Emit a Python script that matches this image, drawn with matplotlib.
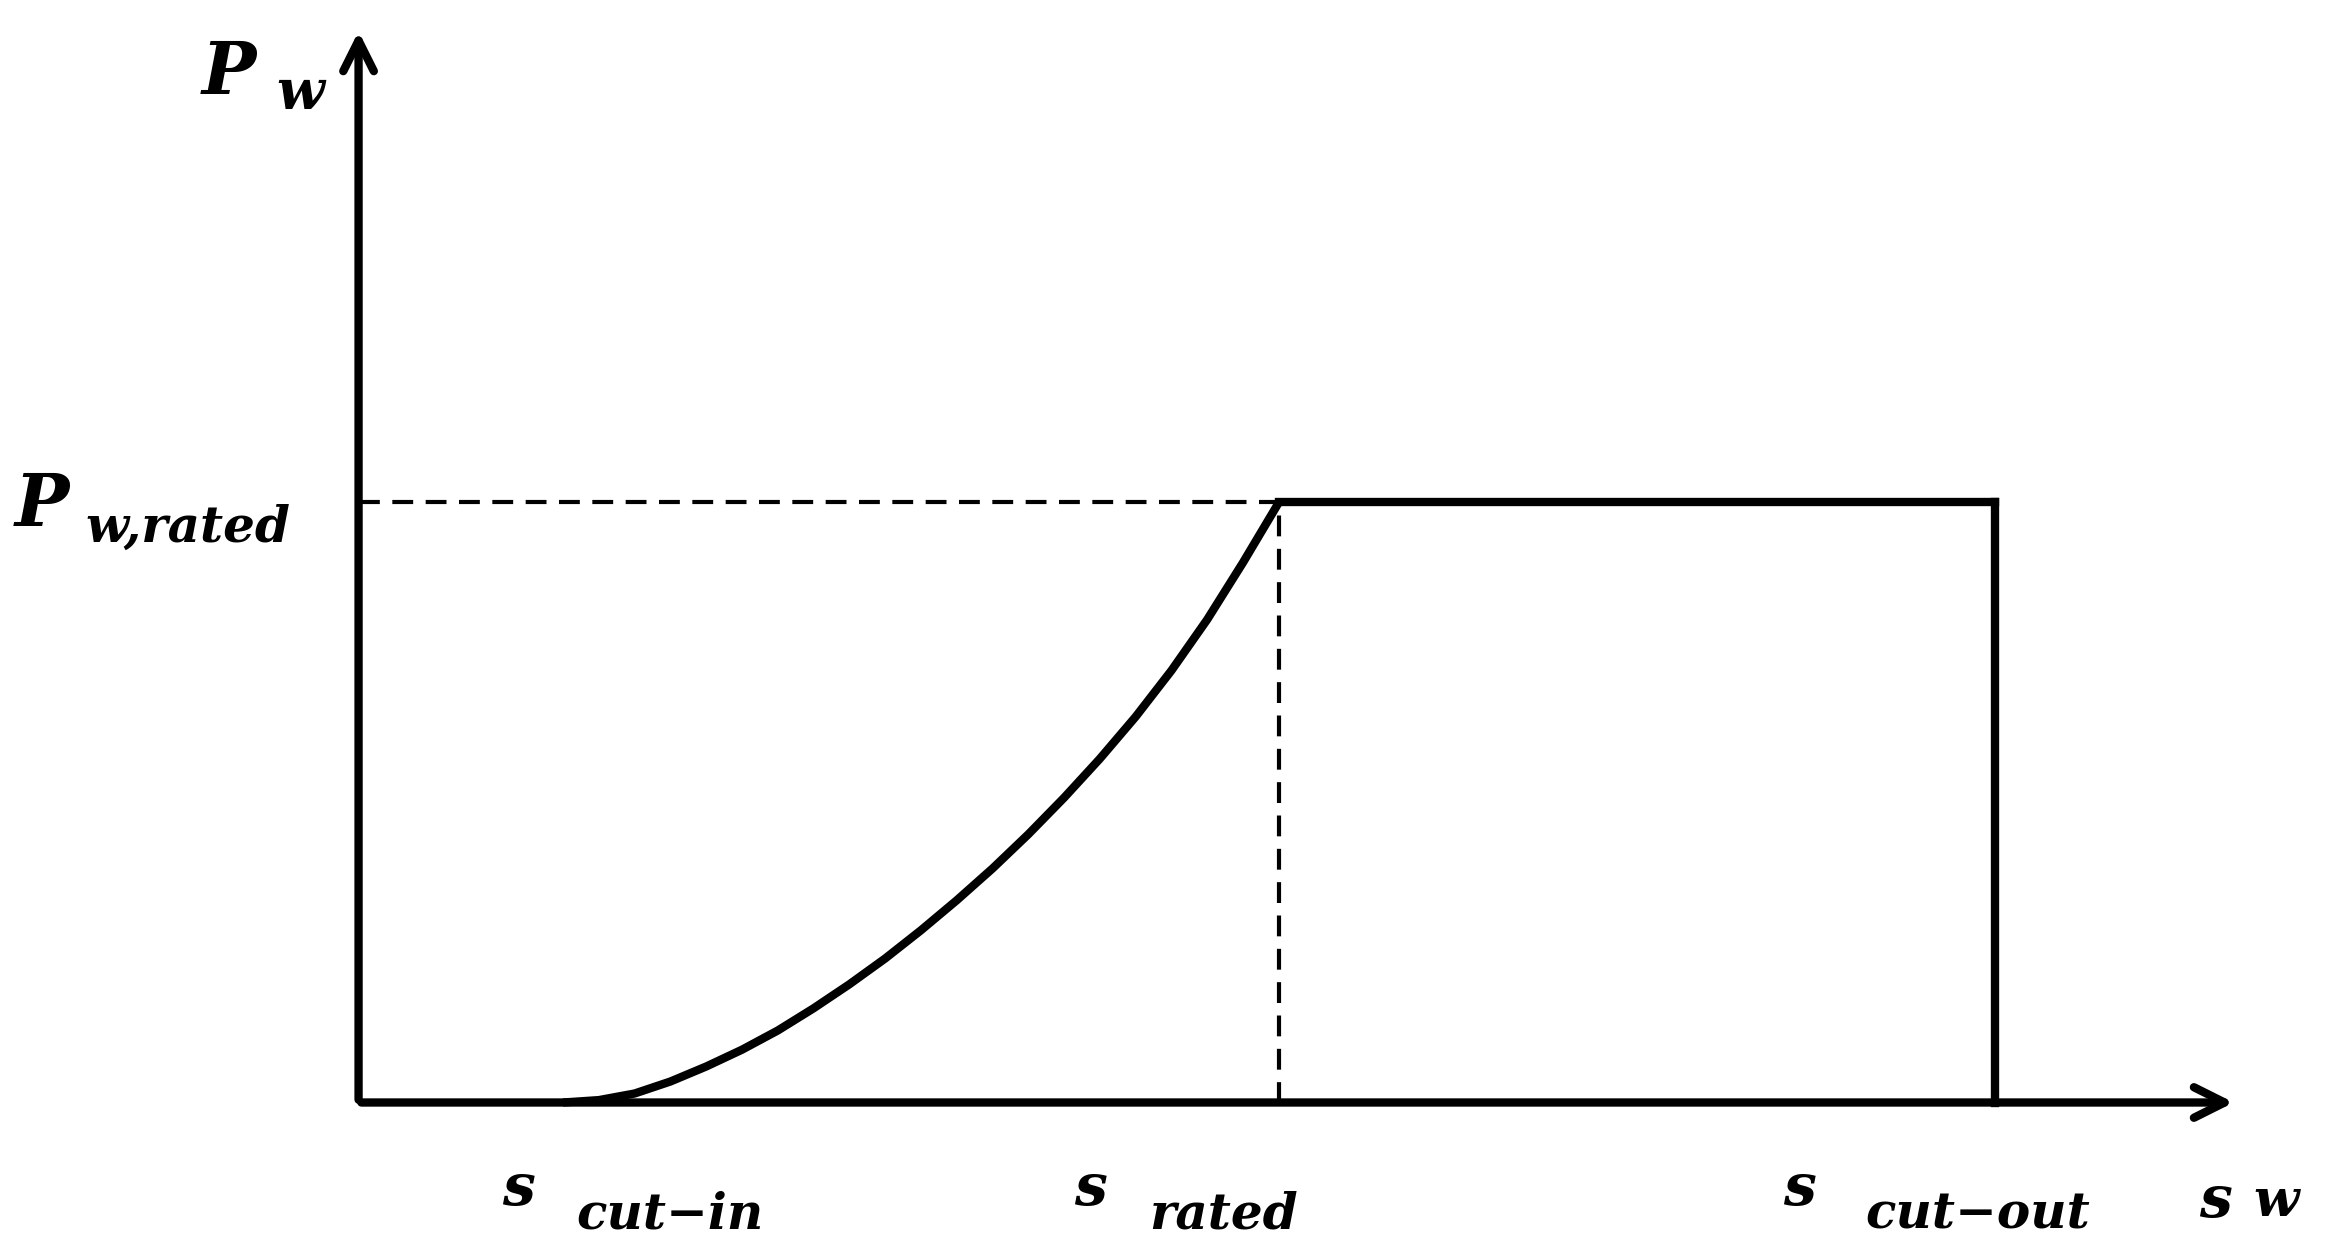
import matplotlib.pyplot as plt

# wind speeds (arbitrary units) and rated power (normalised)
v_cut_in = 3.0
v_rated = 13.5
v_cut_out = 24.0
p_rated = 1.0

# curve: speed -> power between cut-in and rated
curve_v = [3.0, 3.525, 4.05, 4.575, 5.1, 5.625, 6.15, 6.675, 7.2, 7.725, 8.25,
           8.775, 9.3, 9.825, 10.35, 10.875, 11.4, 11.925, 12.45, 12.975, 13.5]
curve_p = [0.0, 0.004, 0.015, 0.035, 0.06, 0.088, 0.12, 0.157, 0.197, 0.24, 0.287,
           0.337, 0.39, 0.447, 0.508, 0.573, 0.643, 0.72, 0.805, 0.9, 1.0]

fig = plt.figure(figsize=(23.32, 12.45), dpi=100)
ax = fig.add_axes([0, 0, 1, 1])
ax.set_xlim(-5.26, 28.95)
ax.set_ylim(-0.2375, 1.8375)
ax.axis("off")

lw = 6
# axes with arrows
ax.annotate("", xy=(27.55, 0), xytext=(0, 0),
            arrowprops=dict(arrowstyle="->", lw=lw, color="black", mutation_scale=55))
ax.annotate("", xy=(0, 1.79), xytext=(0, 0),
            arrowprops=dict(arrowstyle="->", lw=lw, color="black", mutation_scale=55))

# power curve
ax.plot(curve_v, curve_p, color="black", lw=lw, solid_capstyle="butt")
ax.plot([v_rated, v_cut_out], [p_rated, p_rated], color="black", lw=lw)
ax.plot([v_cut_out, v_cut_out], [p_rated, 0], color="black", lw=lw)

# dashed guides
ax.plot([0, v_rated], [p_rated, p_rated], color="black", lw=3, ls=(0, (5, 3)))
ax.plot([v_rated, v_rated], [0, p_rated], color="black", lw=3, ls=(0, (5, 3)))

font = dict(family="DejaVu Serif", style="italic", color="black", fontweight="bold")
# y labels
ax.text(-2.3, 1.68, "P", fontsize=52, ha="left", va="baseline", **font)
ax.text(-1.2, 1.655, "w", fontsize=40, ha="left", va="baseline", **font)
ax.text(-5.05, 0.96, "P", fontsize=52, ha="left", va="baseline", **font)
ax.text(-4.0, 0.935, "w,rated", fontsize=36, ha="left", va="baseline", **font)

# x labels
ax.text(v_cut_in - 0.9, -0.17, "s", fontsize=42, ha="left", va="baseline", **font)
ax.text(v_cut_in + 0.2, -0.21, "cut\u2212in", fontsize=36, ha="left", va="baseline", **font)
ax.text(v_rated - 3.0, -0.17, "s", fontsize=42, ha="left", va="baseline", **font)
ax.text(v_rated - 1.9, -0.21, "rated", fontsize=36, ha="left", va="baseline", **font)
ax.text(v_cut_out - 3.1, -0.17, "s", fontsize=42, ha="left", va="baseline", **font)
ax.text(v_cut_out - 1.9, -0.21, "cut\u2212out", fontsize=36, ha="left", va="baseline", **font)
ax.text(27.0, -0.19, "s", fontsize=42, ha="left", va="baseline", **font)
ax.text(27.8, -0.19, "w", fontsize=38, ha="left", va="baseline", **font)

fig.savefig("out.png", dpi=100, facecolor="white")
